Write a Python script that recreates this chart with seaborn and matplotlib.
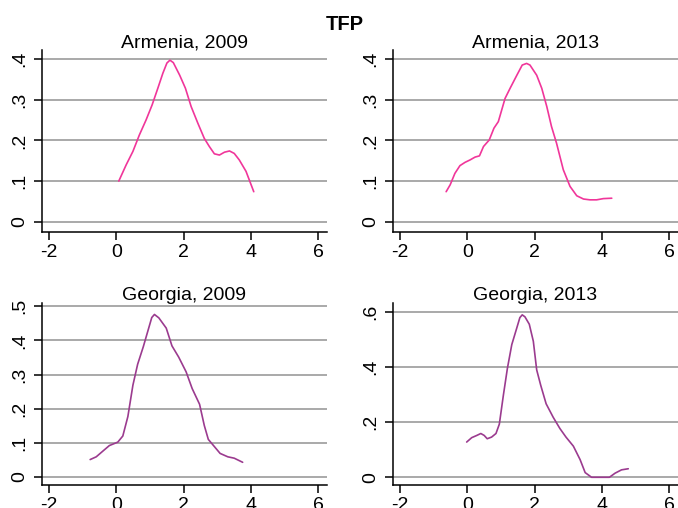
import matplotlib
matplotlib.use('Agg')
import matplotlib.pyplot as plt
import pandas as pd
import numpy as np
import seaborn as sns

# kernel density estimates
arm09_x = [0.07, 0.29, 0.49, 0.68, 0.88, 1.06, 1.23, 1.38, 1.50, 1.59, 1.69, 1.88, 2.05, 2.22,
           2.42, 2.61, 2.76, 2.91, 3.06, 3.21, 3.36, 3.50, 3.65, 3.85, 4.08]
arm09_y = [0.100, 0.140, 0.173, 0.213, 0.250, 0.287, 0.328, 0.365, 0.390, 0.397, 0.391, 0.360,
           0.328, 0.283, 0.242, 0.205, 0.185, 0.167, 0.164, 0.171, 0.174, 0.168, 0.152, 0.124, 0.074]

arm13_x = [-0.63, -0.51, -0.37, -0.22, -0.07, 0.08, 0.23, 0.36, 0.48, 0.65, 0.79, 0.92, 1.12,
           1.27, 1.47, 1.63, 1.76, 1.86, 2.06, 2.21, 2.36, 2.50, 2.65, 2.85, 3.05, 3.25, 3.45,
           3.64, 3.84, 4.04, 4.29]
arm13_y = [0.074, 0.091, 0.119, 0.138, 0.146, 0.152, 0.159, 0.162, 0.185, 0.201, 0.230, 0.246,
           0.303, 0.328, 0.360, 0.385, 0.389, 0.385, 0.360, 0.328, 0.283, 0.234, 0.193, 0.128,
           0.087, 0.064, 0.056, 0.054, 0.054, 0.057, 0.058]

geo09_x = [-0.78, -0.60, -0.40, -0.21, 0.04, 0.19, 0.34, 0.49, 0.63, 0.80, 0.95, 1.05, 1.13,
           1.26, 1.48, 1.65, 1.85, 2.07, 2.25, 2.47, 2.61, 2.73, 2.91, 3.08, 3.31, 3.50, 3.75]
geo09_y = [0.051, 0.059, 0.076, 0.092, 0.102, 0.120, 0.177, 0.269, 0.330, 0.382, 0.433, 0.467,
           0.476, 0.466, 0.436, 0.384, 0.351, 0.308, 0.259, 0.213, 0.151, 0.110, 0.089, 0.069,
           0.059, 0.055, 0.043]

geo13_x = [-0.02, 0.13, 0.28, 0.40, 0.50, 0.59, 0.72, 0.85, 0.95, 1.07, 1.19, 1.32, 1.47, 1.56,
           1.63, 1.71, 1.84, 1.96, 2.06, 2.18, 2.34, 2.55, 2.75, 2.93, 3.15, 3.35, 3.50, 3.69,
           3.94, 4.22, 4.39, 4.58, 4.78]
geo13_y = [0.128, 0.144, 0.152, 0.159, 0.152, 0.140, 0.146, 0.159, 0.193, 0.298, 0.396, 0.482,
           0.543, 0.580, 0.590, 0.583, 0.556, 0.494, 0.390, 0.334, 0.267, 0.218, 0.177, 0.146,
           0.113, 0.064, 0.017, 0.0, 0.0, 0.0, 0.015, 0.027, 0.031]

titles = ['Armenia, 2009', 'Armenia, 2013', 'Georgia, 2009', 'Georgia, 2013']
x_ticks = [-2, 0, 2, 4, 6]
y_ticks_top = [0, 0.1, 0.2, 0.3, 0.4]
y_labels_top = ['0', '.1', '.2', '.3', '.4']
y_ticks_geo09 = [0, 0.1, 0.2, 0.3, 0.4, 0.5]
y_labels_geo09 = ['0', '.1', '.2', '.3', '.4', '.5']
y_ticks_geo13 = [0, 0.2, 0.4, 0.6]
y_labels_geo13 = ['0', '.2', '.4', '.6']

pink = '#f0369a'
purple = '#9b3b8f'

sns.set_theme(style='white', rc={'text.color': 'black', 'xtick.color': 'black',
                                 'ytick.color': 'black'})
plt.rcParams['font.family'] = ['Liberation Sans', 'DejaVu Sans']

fig = plt.figure(figsize=(6.78, 5.08), dpi=100)

panels = [
    (arm09_x, arm09_y, pink, y_ticks_top, y_labels_top, (-0.025, 0.422), [0.062, 0.5433, 0.420, 0.3583]),
    (arm13_x, arm13_y, pink, y_ticks_top, y_labels_top, (-0.025, 0.422), [0.5796, 0.5433, 0.420, 0.3583]),
    (geo09_x, geo09_y, purple, y_ticks_geo09, y_labels_geo09, (-0.0235, 0.5095), [0.062, 0.0453, 0.420, 0.3582]),
    (geo13_x, geo13_y, purple, y_ticks_geo13, y_labels_geo13, (-0.028, 0.633), [0.5796, 0.0453, 0.420, 0.3582]),
]

for (xs, ys, col, yt, yl, ylim, pos), title in zip(panels, titles):
    ax = fig.add_axes(pos)
    df = pd.DataFrame({'x': xs, 'density': ys})
    for v in yt:
        ax.axhline(v, color='#a3a3a3', lw=1.3, zorder=0)
    sns.lineplot(data=df, x='x', y='density', ax=ax, color=col, lw=1.2, sort=False)
    ax.set_xlim(-2.21, 6.25)
    ax.set_ylim(*ylim)
    ax.set_xticks(x_ticks)
    ax.set_xticklabels([str(t) for t in x_ticks])
    ax.set_yticks(yt)
    ax.set_yticklabels(yl, rotation=90, va='center')
    ax.set_xlabel('')
    ax.set_ylabel('')
    ax.set_title(title, fontsize=14, pad=2, color='black')
    ax.tick_params(axis='both', direction='out', length=6, width=1.1, color='black',
                   labelsize=14, pad=4, bottom=True, left=True, labelcolor='black')
    ax.tick_params(axis='x', pad=2.5)
    for s in ['top', 'right']:
        ax.spines[s].set_visible(False)
    for s in ['left', 'bottom']:
        ax.spines[s].set_color('black')
        ax.spines[s].set_linewidth(1.1)

fig.text(0.509, 0.951, 'TFP', ha='center', va='center', fontsize=14.5,
         fontweight='bold', color='black')

fig.savefig('out.png', dpi=100)
